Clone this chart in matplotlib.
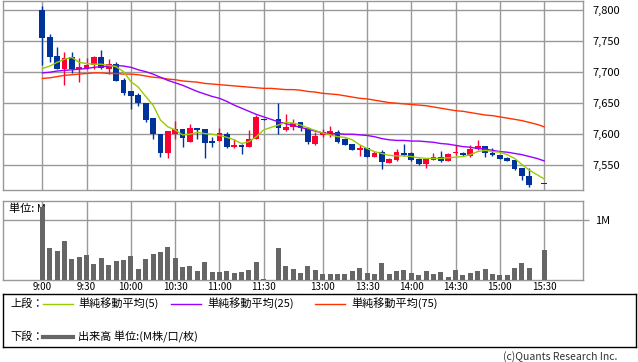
import numpy as np
import matplotlib
matplotlib.use("Agg")
import matplotlib.pyplot as plt

plt.rcParams["font.family"] = ["Noto Sans CJK JP", "DejaVu Sans"]

UP_COLOR = "#ff0033"
DOWN_COLOR = "#003399"
GRID_COLOR = "#999999"
VOL_COLOR = "#666666"
MA5_COLOR = "#99cc00"
MA25_COLOR = "#9900ff"
MA75_COLOR = "#ff3300"

nan = np.nan

# 5-minute bars, slot index 0 = 9:00 (slots 31 and 67 have no trade)
opens = [7800, 7757, 7726, 7706, 7724, 7706, 7707, 7712, 7725, 7705,
         7713, 7688, 7670, 7663, 7650, 7626, 7600, 7569, 7600, 7609,
         7588, 7610, 7608, 7589, 7589, 7600, 7579, 7583, 7579, 7592,
         7625, nan, 7625, 7607, 7611, 7619, 7610, 7584, 7598, 7599,
         7604, 7592, 7584, 7575, 7577, 7564, 7572, 7553, 7558, 7570,
         7570, 7560, 7552, 7558, 7563, 7556, 7569, 7570, 7565, 7576,
         7581, 7570, 7567, 7562, 7558, 7546, 7532, nan, 7519]
highs = [7807, 7761, 7740, 7732, 7732, 7723, 7723, 7726, 7736, 7721,
         7717, 7690, 7670, 7666, 7651, 7626, 7600, 7605, 7621, 7609,
         7617, 7610, 7609, 7595, 7610, 7603, 7593, 7585, 7607, 7631,
         7625, nan, 7650, 7633, 7625, 7620, 7611, 7603, 7608, 7613,
         7607, 7594, 7585, 7583, 7578, 7573, 7575, 7561, 7576, 7585,
         7571, 7561, 7562, 7569, 7573, 7570, 7583, 7571, 7582, 7590,
         7581, 7577, 7567, 7563, 7559, 7546, 7545, nan, 7519]
lows = [7712, 7717, 7705, 7680, 7699, 7685, 7706, 7706, 7705, 7697,
        7686, 7663, 7641, 7646, 7620, 7593, 7564, 7561, 7592, 7580,
        7587, 7593, 7561, 7579, 7589, 7577, 7577, 7568, 7579, 7592,
        7623, nan, 7600, 7605, 7607, 7605, 7584, 7583, 7596, 7596,
        7586, 7583, 7574, 7565, 7563, 7564, 7544, 7553, 7557, 7565,
        7556, 7550, 7545, 7558, 7555, 7556, 7566, 7565, 7563, 7575,
        7563, 7565, 7560, 7556, 7543, 7526, 7515, nan, 7519]
closes = [7756, 7725, 7705, 7723, 7705, 7709, 7712, 7725, 7707, 7713,
          7686, 7667, 7662, 7650, 7623, 7600, 7569, 7605, 7609, 7594,
          7610, 7607, 7586, 7586, 7602, 7580, 7582, 7580, 7593, 7627,
          7623, nan, 7610, 7612, 7618, 7610, 7587, 7597, 7603, 7605,
          7588, 7583, 7575, 7578, 7564, 7570, 7555, 7560, 7571, 7567,
          7558, 7552, 7560, 7564, 7557, 7568, 7572, 7567, 7576, 7581,
          7569, 7567, 7560, 7557, 7544, 7532, 7518, nan, 7519]

ma5 = [7706, 7710, 7716, 7721, 7724, 7716, 7714, 7713, 7713, 7711,
       7709, 7701, 7685, 7676, 7661, 7647, 7623, 7612, 7607, 7599,
       7600, 7603, 7601, 7600, 7598, 7595, 7591, 7585, 7588, 7596,
       7607, 7611, 7615, 7619, 7618, 7615, 7610, 7606, 7602, 7599,
       7596, 7595, 7591, 7583, 7577, 7572, 7569, 7566, 7565, 7565,
       7564, 7562, 7561, 7561, 7561, 7562, 7563, 7564, 7567, 7572,
       7574, 7572, 7571, 7567, 7561, 7551, 7542, 7535, 7528]
ma25 = [7699, 7700, 7702, 7703, 7704, 7705, 7706, 7708, 7709, 7710,
        7711, 7710, 7708, 7704, 7701, 7697, 7692, 7687, 7683, 7679,
        7674, 7669, 7665, 7661, 7658, 7653, 7647, 7642, 7637, 7632,
        7628, 7624, 7620, 7617, 7614, 7611, 7608, 7605, 7602, 7601,
        7601, 7600, 7600, 7599, 7598, 7596, 7593, 7591, 7590, 7590,
        7589, 7589, 7588, 7587, 7585, 7584, 7582, 7580, 7579, 7577,
        7576, 7574, 7572, 7571, 7569, 7567, 7564, 7561, 7557]
ma75 = [7690, 7691, 7693, 7695, 7696, 7697, 7698, 7699, 7699, 7698,
        7698, 7697, 7697, 7696, 7694, 7692, 7691, 7689, 7688, 7686,
        7685, 7684, 7682, 7681, 7680, 7679, 7678, 7677, 7676, 7675,
        7674, 7674, 7673, 7672, 7672, 7671, 7669, 7668, 7666, 7665,
        7664, 7662, 7660, 7658, 7657, 7655, 7653, 7651, 7650, 7649,
        7648, 7647, 7646, 7644, 7642, 7640, 7638, 7637, 7635, 7633,
        7631, 7630, 7628, 7626, 7624, 7622, 7619, 7616, 7612]

# volume in millions
volume = [1.22, 0.54, 0.48, 0.65, 0.35, 0.38, 0.42, 0.27, 0.37, 0.25,
          0.32, 0.33, 0.40, 0.18, 0.35, 0.43, 0.47, 0.55, 0.37, 0.22,
          0.23, 0.15, 0.30, 0.13, 0.13, 0.15, 0.12, 0.13, 0.17, 0.30,
          0.02, nan, 0.53, 0.23, 0.18, 0.12, 0.23, 0.17, 0.10, 0.10,
          0.10, 0.10, 0.15, 0.20, 0.12, 0.10, 0.28, 0.10, 0.15, 0.17,
          0.12, 0.08, 0.15, 0.10, 0.13, 0.05, 0.17, 0.08, 0.12, 0.15,
          0.18, 0.10, 0.08, 0.08, 0.20, 0.28, 0.20, nan, 0.50]

time_slots = [0, 6, 12, 18, 24, 30, 38, 44, 50, 56, 62, 68]
time_labels = ["9:00", "9:30", "10:00", "10:30", "11:00", "11:30",
               "13:00", "13:30", "14:00", "14:30", "15:00", "15:30"]
price_ticks = [7550, 7600, 7650, 7700, 7750, 7800]
price_labels = ["7,550", "7,600", "7,650", "7,700", "7,750", "7,800"]

legend_names = ["単純移動平均(5)", "単純移動平均(25)", "単純移動平均(75)"]

W, H = 638, 362


def fig_box(x0, y0, x1, y1):
    # pixel box (top-left origin) -> figure fraction rect
    return [x0 / W, 1 - y1 / H, (x1 - x0) / W, (y1 - y0) / H]


def style_panel(ax):
    for s in ax.spines.values():
        s.set_color(GRID_COLOR)
        s.set_linewidth(1.0)
    ax.set_xlim(-5.33, 73.2)
    ax.set_xticks(time_slots)
    ax.grid(True, color=GRID_COLOR, linewidth=1.0)
    ax.set_axisbelow(True)


fig = plt.figure(figsize=(W / 100, H / 100), dpi=100)

# price panel
ax = fig.add_axes(fig_box(3, 1, 582.5, 190))
style_panel(ax)
ax.set_ylim(7510, 7815)
ax.set_yticks(price_ticks)
ax.yaxis.tick_right()
ax.set_yticklabels(price_labels, fontsize=8)
ax.tick_params(axis="y", length=0, pad=7.5)
ax.tick_params(axis="x", length=0, labelbottom=False)

x = np.arange(len(opens))
o = np.array(opens, dtype=float)
h = np.array(highs, dtype=float)
l = np.array(lows, dtype=float)
c = np.array(closes, dtype=float)
ok = ~np.isnan(o)
up = ok & (c > o)
dn = ok & (c <= o)

for mask, col in [(up, UP_COLOR), (dn, DOWN_COLOR)]:
    ax.vlines(x[mask], l[mask], h[mask], color=col, linewidth=1.0, zorder=3)
    body_lo = np.minimum(o[mask], c[mask])
    body_h = np.maximum(np.abs(c[mask] - o[mask]), 1.6)
    ax.bar(x[mask], body_h, bottom=body_lo, width=0.78, color=col,
           linewidth=0, zorder=3)

ax.plot(x, ma75, color=MA75_COLOR, linewidth=1.0, zorder=4)
ax.plot(x, ma25, color=MA25_COLOR, linewidth=1.0, zorder=4)
ax.plot(x, ma5, color=MA5_COLOR, linewidth=1.0, zorder=4)

# volume panel
axv = fig.add_axes(fig_box(3, 201, 582.5, 280))
style_panel(axv)
axv.set_ylim(0, 1.317)
axv.set_yticks([1.0])
axv.yaxis.tick_right()
axv.set_yticklabels(["1M"], fontsize=8)
axv.tick_params(axis="y", length=4, width=1.0, color=GRID_COLOR, pad=5)
axv.set_xticklabels(time_labels, fontsize=7)
axv.tick_params(axis="x", length=0, pad=1.5)
v = np.array(volume, dtype=float)
vok = ~np.isnan(v)
axv.bar(x[vok], v[vok], width=0.68, color=VOL_COLOR, linewidth=0, zorder=3)
axv.text(0.01, 1.19, "単位: M", fontsize=8, va="center", ha="left",
         transform=axv.get_yaxis_transform(), zorder=2)
axv.set_xlim(-5.33, 73.2)

# legend box (pixel coordinates)
axl = fig.add_axes(fig_box(3, 293.5, 635.5, 346.5))
axl.set_xlim(3, 635.5)
axl.set_ylim(346.5, 293.5)
axl.set_xticks([])
axl.set_yticks([])
for s in axl.spines.values():
    s.set_color("black")
    s.set_linewidth(1.0)

row1, row2 = 303.5, 336.5
axl.text(10, row1, "上段：", fontsize=8, va="center")
for (x0, x1, tx), col, name in zip([(43, 73, 78), (171, 201, 207), (315, 345, 351)],
                                   [MA5_COLOR, MA25_COLOR, MA75_COLOR], legend_names):
    axl.plot([x0, x1], [row1, row1], color=col, linewidth=1.0)
    axl.text(tx, row1, name, fontsize=8, va="center")
axl.text(10, row2, "下段：", fontsize=8, va="center")
axl.plot([43, 73], [row2, row2], color=VOL_COLOR, linewidth=3.0)
axl.text(78, row2, "出来高 単位:(M株/口/枚)", fontsize=8, va="center")

fig.text(617 / W, 1 - 357 / H, "(c)Quants Research Inc.", fontsize=7.5,
         ha="right", va="center", color="#333333")

fig.savefig("out.png", dpi=100)
